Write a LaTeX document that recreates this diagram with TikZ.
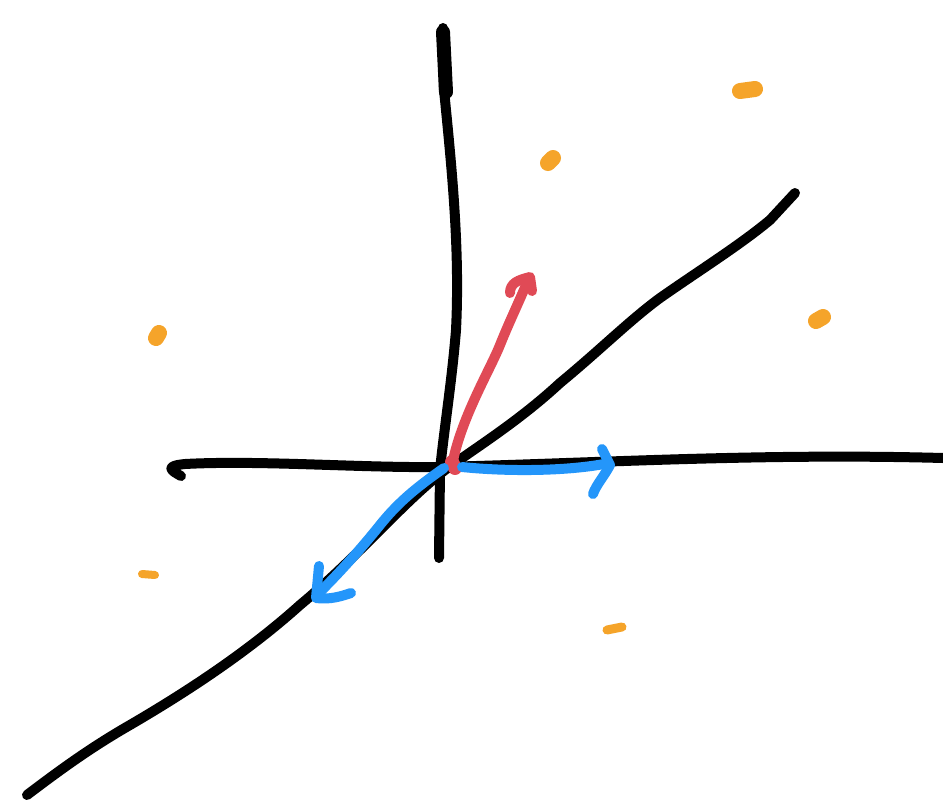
\documentclass[tikz,border=0pt]{standalone}
\begin{document}
\begin{tikzpicture}[x=1pt,y=-1pt,
  axis/.style={line width=10pt,line cap=round,line join=round,black},
  redv/.style={line width=10pt,line cap=round,line join=round,draw={rgb,255:red,224;green,74;blue,86}},
  bluev/.style={line width=10pt,line cap=round,line join=round,draw={rgb,255:red,36;green,150;blue,250}},
  dot/.style={line width=16pt,line cap=round,draw={rgb,255:red,245;green,164;blue,42}}]
\useasboundingbox[fill=white] (0,0) rectangle (943,801);
% vertical axis
\draw[axis] (443,28) -- (444,90) .. controls (452,170) and (460,250) .. (456,330) .. controls (452,380) and (444,430) .. (440,470) -- (439,558);
\draw[line width=14pt,line cap=round] (443,32) -- (446,92);
% horizontal axis
\draw[axis] (181,476) .. controls (170,470) and (165,466) .. (185,464) .. controls (260,460) and (360,468) .. (440,467) .. controls (600,463) and (760,453) .. (943,458);
% diagonal axis
\draw[axis] (27,795) .. controls (60,770) and (90,748) .. (130,725) .. controls (190,690) and (250,650) .. (300,605) .. controls (360,555) and (400,505) .. (445,470) .. controls (480,445) and (520,420) .. (560,383) .. controls (600,350) and (630,320) .. (660,298) .. controls (700,270) and (740,245) .. (770,220) -- (795,193);
% red vector
\coordinate (o) at (452,466);
\draw[redv] (o) .. controls (460,420) and (490,370) .. (500,345) .. controls (510,320) and (520,300) .. (528,280);
\draw[redv] (510,293) .. controls (510,283) and (518,280) .. (530,277) -- (532,291);
\draw[line width=14pt,line cap=round,draw={rgb,255:red,224;green,74;blue,86}] (452,462) -- (455,468);
% blue vectors
\draw[bluev] (462,467) .. controls (500,471) and (560,472) .. (604,464);
\draw[bluev] (602,449) -- (610,465) .. controls (605,475) and (596,485) .. (593,494);
\draw[bluev] (444,468) .. controls (420,485) and (400,500) .. (380,525) .. controls (360,550) and (340,572) .. (320,592);
\draw[bluev] (319,566) -- (316,598) .. controls (330,600) and (342,596) .. (351,593);
% orange points
\draw[dot] (740,91) -- (755,89);
\draw[dot] (548,163) -- (553,158);
\draw[dot] (156,338) -- (159,333);
\draw[dot] (816,321) -- (823,317);
\draw[line width=8pt,line cap=round,draw={rgb,255:red,245;green,164;blue,42}] (142,574) -- (155,575);
\draw[line width=9pt,line cap=round,draw={rgb,255:red,245;green,164;blue,42}] (607,630) -- (622,627);
\end{tikzpicture}
\end{document}
